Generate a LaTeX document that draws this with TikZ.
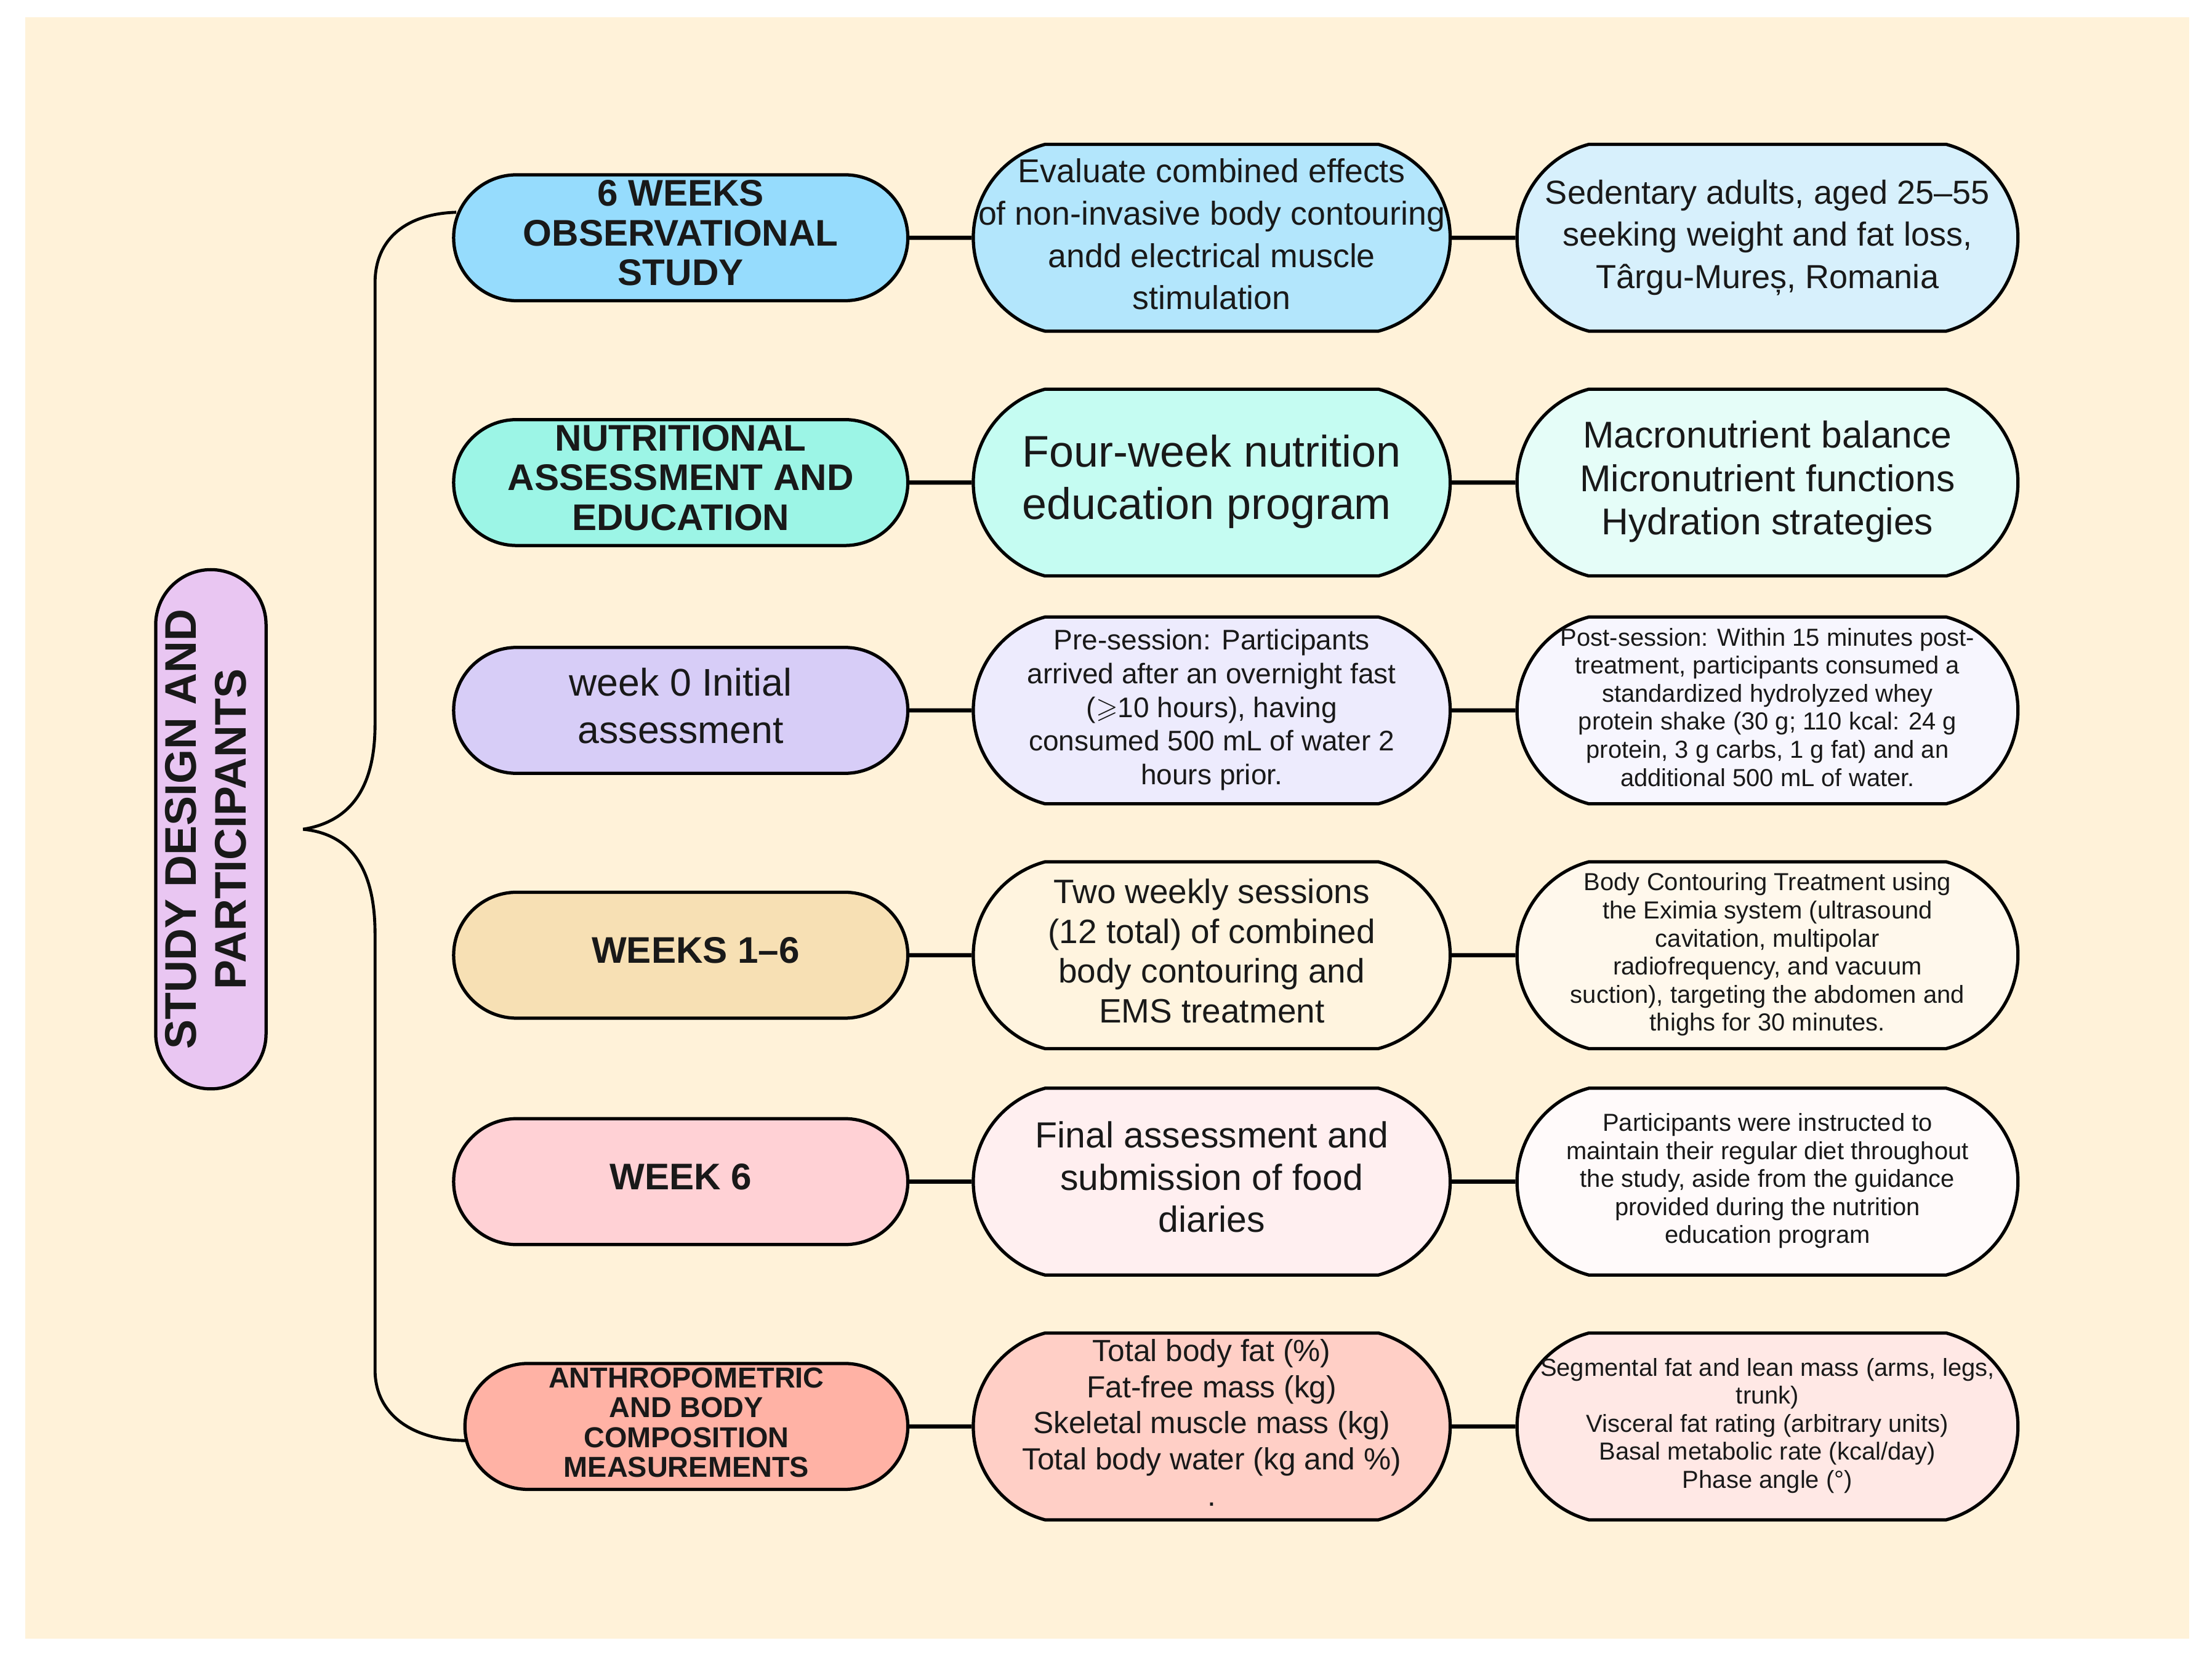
\documentclass[tikz,border=0pt]{standalone}
\usepackage{fontspec}
\setmainfont{Liberation Sans}
\usepackage{amssymb}
\usetikzlibrary{positioning,calc,shapes.misc}

\definecolor{cream}{HTML}{FFF2D9}
\definecolor{studyfill}{HTML}{E9C6F2}
\definecolor{blueA}{HTML}{96DCFD}
\definecolor{blueB}{HTML}{B3E6FC}
\definecolor{blueC}{HTML}{D7F0FC}
\definecolor{aquaA}{HTML}{9CF5E6}
\definecolor{aquaB}{HTML}{C5FCF2}
\definecolor{aquaC}{HTML}{E5FDF8}
\definecolor{lilaA}{HTML}{D7CDF7}
\definecolor{lilaB}{HTML}{EDEBFD}
\definecolor{lilaC}{HTML}{F7F6FE}
\definecolor{sandA}{HTML}{F7E0B4}
\definecolor{sandB}{HTML}{FFF4DF}
\definecolor{sandC}{HTML}{FFF8EC}
\definecolor{roseA}{HTML}{FFD1D5}
\definecolor{roseB}{HTML}{FFEFF0}
\definecolor{roseC}{HTML}{FFFAFA}
\definecolor{salmA}{HTML}{FFB2A5}
\definecolor{salmB}{HTML}{FFCFC6}
\definecolor{salmC}{HTML}{FFE8E5}

\newcommand{\fsz}[2]{\fontsize{#1}{#2}\selectfont}
% text block of zero width, so that it never widens the pill
\newcommand{\lines}[1]{\makebox[0pt]{\raisebox{-1.7pt}{\begin{tabular}{@{}c@{}}#1\end{tabular}}}}
\newcommand{\llines}[1]{\makebox[0pt]{\raisebox{-1.7pt}{\begin{tabular}{@{}l@{}}#1\end{tabular}}}}

\begin{document}
\begin{tikzpicture}[x=0.02cm, y=-0.02cm,
         pill/.style = {rounded rectangle, draw=black, line width=1.3pt,
            inner xsep=-1cm, inner ysep=0pt, text=black!90},
         stage/.style = {pill, minimum width=4.42cm, minimum height=1.78cm},
         goal/.style = {pill, rounded rectangle arc length=150,
            minimum width=4.74cm, minimum height=2.64cm},
         detail/.style = {pill, rounded rectangle arc length=150,
            minimum width=5.08cm, minimum height=2.64cm},
         link/.style = {line width=1.7pt},
         brace/.style = {line width=1.2pt}
]
      \useasboundingbox (0,0) rectangle (1563,1178);
      \fill[cream] (18,12) rectangle (1547,1158);

      % title
      \node[pill, rotate=90, minimum width=5.34cm, minimum height=1.56cm,
         fill=studyfill, font=\fsz{17.8}{20}\bfseries] (study) at (149,586)
         {\lines{STUDY DESIGN AND\\PARTICIPANTS}};

      % stages
      \node[stage, fill=blueA, font=\fsz{14.9}{16}\bfseries] (s1) at (481,168)
         {\lines{6 WEEKS\\OBSERVATIONAL\\STUDY}};
      \node[stage, fill=aquaA, font=\fsz{14.9}{16}\bfseries] (s2) at (481,341)
         {\lines{NUTRITIONAL\\ASSESSMENT AND\\EDUCATION}};
      \node[stage, fill=lilaA, font=\fsz{15.5}{19}] (s3) at (481,502)
         {\lines{week 0 Initial\\assessment}};
      \node[stage, fill=sandA, font=\fsz{14.9}{16}\bfseries] (s4) at (481,675)
         {\lines{\hspace{12pt}WEEKS 1–6}};
      \node[stage, fill=roseA, font=\fsz{14.9}{16}\bfseries] (s5) at (481,835)
         {\lines{WEEK 6\hspace{14pt}}};
      \node[stage, minimum width=4.26cm, fill=salmA, font=\fsz{11.6}{12}\bfseries]
         (s6) at (485,1008) {\lines{ANTHROPOMETRIC\\AND BODY\\COMPOSITION\\MEASUREMENTS}};

      % aims
      \node[goal, right=0.88cm of s1, fill=blueB, font=\fsz{13.3}{17}] (g1)
         {\lines{Evaluate combined effects\\of non-invasive body contouring\\andd electrical muscle\\stimulation}};
      \node[goal, right=0.88cm of s2, fill=aquaB, font=\fsz{17.8}{21}] (g2)
         {\llines{Four-week nutrition\\education program}};
      \node[goal, right=0.88cm of s3, fill=lilaB, font=\fsz{11.4}{13.6}] (g3)
         {\lines{Pre-session: Participants\\arrived after an overnight fast\\($\geqslant$10 hours), having\\consumed 500 mL of water 2\\hours prior.}};
      \node[goal, right=0.88cm of s4, fill=sandB, font=\fsz{13.6}{16}] (g4)
         {\lines{Two weekly sessions\\(12 total) of combined\\body contouring and\\EMS treatment}};
      \node[goal, right=0.88cm of s5, fill=roseB, font=\fsz{14.6}{17}] (g5)
         {\lines{Final assessment and\\submission of food\\diaries}};
      \node[goal, right=0.88cm of s6, fill=salmB, font=\fsz{12.3}{14.5}] (g6)
         {\lines{Total body fat (\%)\\Fat-free mass (kg)\\Skeletal muscle mass (kg)\\Total body water (kg and \%)\\.}};

      % details
      \node[detail, right=0.9cm of g1, fill=blueC, font=\fsz{13.4}{17}] (d1)
         {\lines{Sedentary adults, aged 25–55\\seeking weight and fat loss,\\Târgu-Mureș, Romania}};
      \node[detail, right=0.9cm of g2, fill=aquaC, font=\fsz{15}{17.5}] (d2)
         {\lines{Macronutrient balance\\Micronutrient functions\\Hydration strategies}};
      \node[detail, right=0.9cm of g3, fill=lilaC, font=\fsz{9.9}{11.3}] (d3)
         {\lines{Post-session: Within 15 minutes post-\\treatment, participants consumed a\\standardized hydrolyzed whey\\protein shake (30 g; 110 kcal: 24 g\\protein, 3 g carbs, 1 g fat) and an\\additional 500 mL of water.}};
      \node[detail, right=0.9cm of g4, fill=sandC, font=\fsz{9.9}{11.3}] (d4)
         {\lines{Body Contouring Treatment using\\the Eximia system (ultrasound\\cavitation, multipolar\\radiofrequency, and vacuum\\suction), targeting the abdomen and\\thighs for 30 minutes.}};
      \node[detail, right=0.9cm of g5, fill=roseC, font=\fsz{9.9}{11.3}] (d5)
         {\lines{Participants were instructed to\\maintain their regular diet throughout\\the study, aside from the guidance\\provided during the nutrition\\education program}};
      \node[detail, right=0.9cm of g6, fill=salmC, font=\fsz{9.9}{11.3}] (d6)
         {\lines{Segmental fat and lean mass (arms, legs,\\trunk)\\Visceral fat rating (arbitrary units)\\Basal metabolic rate (kcal/day)\\Phase angle (°)}};

      \foreach \i in {1,...,6}{
         \draw[link] (s\i) -- (g\i);
         \draw[link] (g\i) -- (d\i);
      }

      % curly brace
      \coordinate (tip) at ($(study.south)+(25,0)$);
      \draw[brace] (tip) .. controls (245,581) and (265,560) .. (265,512)
         -- (265,200) .. controls (265,168) and (288,151) .. ($(s1.west)+(3,-18)$);
      \draw[brace] (tip) .. controls (245,589) and (265,610) .. (265,660)
         -- (265,968) .. controls (265,1000) and (292,1018) .. ($(s6.west)+(2,10)$);
   \end{tikzpicture}
\end{document}
